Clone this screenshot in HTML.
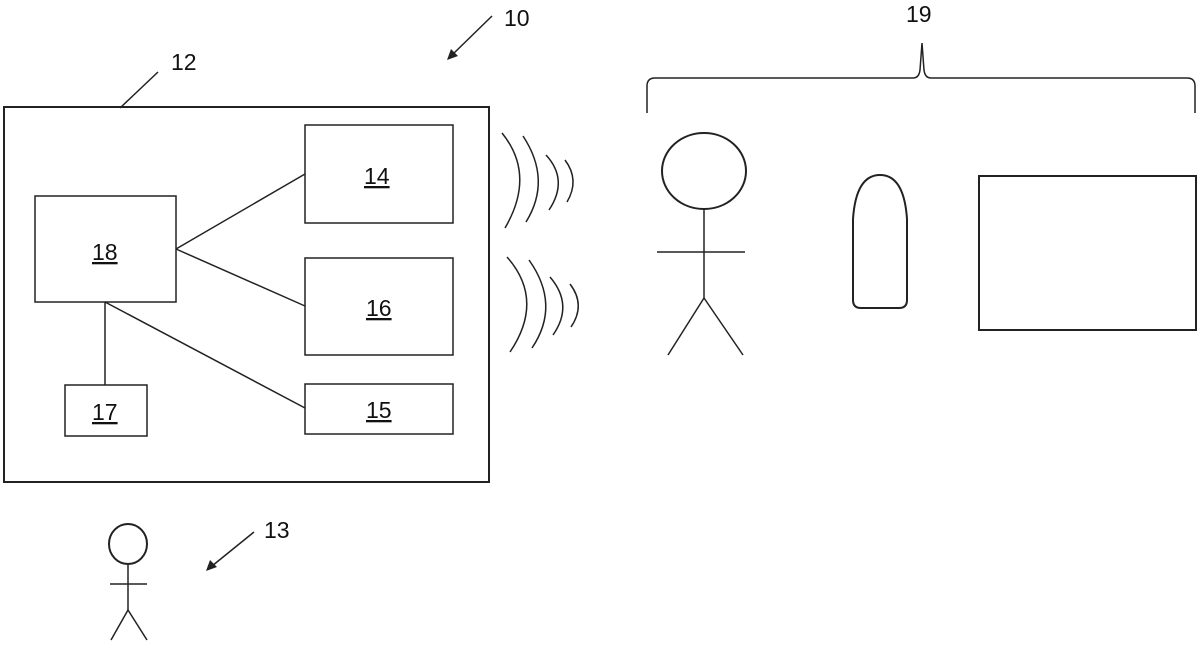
<!DOCTYPE html>
<html><head><meta charset="utf-8"><style>
html,body{margin:0;padding:0;background:#fff;}
svg{display:block;}
text{font-family:"Liberation Sans",sans-serif;font-size:23px;fill:#111;}
</style></head><body>
<svg width="1200" height="646" viewBox="0 0 1200 646" xmlns="http://www.w3.org/2000/svg" fill="none" stroke="#222" stroke-width="1.5">
<text x="504" y="26" stroke="none">10</text>
<line x1="492" y1="16" x2="452" y2="55"/>
<polygon points="447,60 451,49 458,56" fill="#222" stroke="none"/>
<text x="171" y="70" stroke="none">12</text>
<line x1="158" y1="72" x2="120" y2="108"/>
<text x="906" y="22" stroke="none">19</text>
<path d="M647,113 L647,86 Q647,78 655,78 L913,78 Q919,78 920,70 L922,43 L924,70 Q925,78 931,78 L1187,78 Q1195,78 1195,86 L1195,113"/>
<rect x="4" y="107" width="485" height="375" stroke-width="2"/>
<rect x="305" y="125" width="148" height="98"/>
<rect x="35" y="196" width="141" height="106"/>
<rect x="305" y="258" width="148" height="97"/>
<rect x="65" y="385" width="82" height="51"/>
<rect x="305" y="384" width="148" height="50"/>
<line x1="176" y1="249" x2="305" y2="174"/>
<line x1="176" y1="249" x2="305" y2="306"/>
<line x1="105" y1="302" x2="105" y2="385"/>
<line x1="105" y1="302" x2="305" y2="408"/>
<g stroke="none">
<text x="364" y="184" style="text-decoration:underline">14</text>
<text x="92" y="260" style="text-decoration:underline">18</text>
<text x="366" y="316" style="text-decoration:underline">16</text>
<text x="92" y="420" style="text-decoration:underline">17</text>
<text x="366" y="418" style="text-decoration:underline">15</text>
</g>
<path d="M502,133 Q536,175 505,228"/>
<path d="M523,136 Q552,180 526,222"/>
<path d="M546,155 Q569,180 549,210"/>
<path d="M565,160 Q580,180 567,202"/>
<path d="M507,257 Q545,300 510,352"/>
<path d="M529,260 Q561,305 532,348"/>
<path d="M550,277 Q574,305 553,335"/>
<path d="M570,284 Q586,305 571,327"/>
<ellipse cx="704" cy="171" rx="42" ry="38" stroke-width="2"/>
<line x1="704" y1="209" x2="704" y2="298"/>
<line x1="657" y1="252" x2="745" y2="252"/>
<line x1="704" y1="298" x2="668" y2="355"/>
<line x1="704" y1="298" x2="743" y2="355"/>
<path d="M853,219 Q856,175 880,175 Q904,175 907,219 L907,300 Q907,308 899,308 L861,308 Q853,308 853,300 Z" stroke-width="2"/>
<rect x="979" y="176" width="217" height="154" stroke-width="2"/>
<ellipse cx="128" cy="544" rx="19" ry="20" stroke-width="2"/>
<line x1="128" y1="564" x2="128" y2="610"/>
<line x1="110" y1="584" x2="147" y2="584"/>
<line x1="128" y1="610" x2="111" y2="640"/>
<line x1="128" y1="610" x2="147" y2="640"/>
<text x="264" y="538" stroke="none">13</text>
<line x1="254" y1="532" x2="212" y2="566"/>
<polygon points="206,571 210,560 217,567" fill="#222" stroke="none"/>
</svg>
</body></html>
